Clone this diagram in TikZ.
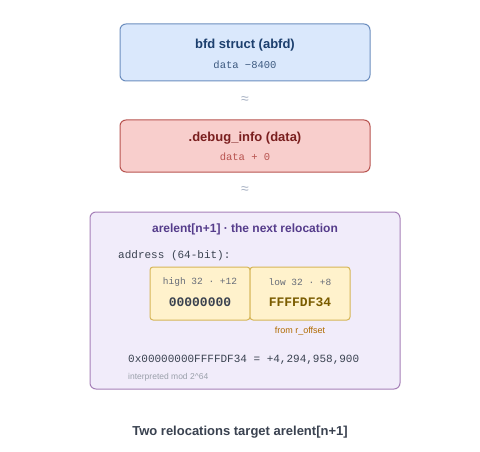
\documentclass[tikz,border=0pt]{standalone}
\usepackage{fontspec}
\setmainfont{Liberation Sans}
\setmonofont{Liberation Mono}
\definecolor{bluefill}{HTML}{DAE8FC}
\definecolor{bluedraw}{HTML}{6C8EBF}
\definecolor{bluetext}{HTML}{1C3F6E}
\definecolor{bluemono}{HTML}{3D5A80}
\definecolor{redfill}{HTML}{F8CECC}
\definecolor{reddraw}{HTML}{B85450}
\definecolor{redtext}{HTML}{7A1F1F}
\definecolor{redmono}{HTML}{B85450}
\definecolor{purfill}{HTML}{F1ECFA}
\definecolor{purdraw}{HTML}{A680B8}
\definecolor{purtext}{HTML}{553C8B}
\definecolor{yelfill}{HTML}{FFF2CC}
\definecolor{yeldraw}{HTML}{D6B656}
\definecolor{goldtext}{HTML}{7A5C00}
\definecolor{darktext}{HTML}{3A4250}
\definecolor{graytext}{HTML}{666C78}
\definecolor{lightgray}{HTML}{9AA0AA}
\definecolor{orangetext}{HTML}{B06A00}
\definecolor{approx}{HTML}{A8B2C4}
\begin{document}
\begin{tikzpicture}[x=1pt,y=-1pt,
  box/.style={draw, line width=1pt, rounded corners=6pt},
  title/.style={font=\fontsize{13}{15}\selectfont\bfseries, inner sep=0pt},
  mono/.style={font=\ttfamily\fontsize{10.5}{12}\selectfont, inner sep=0pt},
  field/.style={draw=yeldraw, fill=yelfill, line width=1pt, rounded corners=3pt},
  sep/.style={font=\fontsize{14}{15}\selectfont, text=approx, inner sep=0pt}]
\useasboundingbox (0,0) rectangle (480,452);
\fill[white] (0,0) rectangle (480,452);

% blue box
\draw[box, draw=bluedraw, fill=bluefill] (120,24) rectangle (370,81);
\node[title, text=bluetext] (t1) at (245,45) {bfd struct (abfd)};
\node[mono, text=bluemono] (m1) at (245,65) {data −8400};

\node[sep] (s1) at (245,100) {≈};

% red box
\draw[box, draw=reddraw, fill=redfill] (120,120) rectangle (370,172);
\node[title, text=redtext] (t2) at (245,138) {.debug\_info (data)};
\node[mono, text=redmono] (m2) at (245,157) {data + 0};

\node[sep] (s2) at (245,190) {≈};

% purple box
\draw[box, draw=purdraw, fill=purfill] (90,212) rectangle (400,389);
\node[title, text=purtext, font=\fontsize{12}{14}\selectfont\bfseries] (t3) at (245,229) {arelent[n+1] · the next relocation};
\node[mono, anchor=west, text=darktext, font=\ttfamily\fontsize{11}{12}\selectfont] (addr) at (118,256) {address (64-bit):};

\draw[field] (150,267) rectangle (250,320);
\draw[field] (250,267) rectangle (350,320);
\node[mono, text=graytext, font=\ttfamily\fontsize{9.5}{11}\selectfont] (h1) at (200,282) {high 32 · +12};
\node[mono, text=darktext, font=\ttfamily\bfseries\fontsize{13}{14}\selectfont] (h2) at (200,302) {00000000};
\node[mono, text=graytext, font=\ttfamily\fontsize{9.5}{11}\selectfont] (l1) at (300,282) {low 32 · +8};
\node[mono, text=goldtext, font=\ttfamily\bfseries\fontsize{13}{14}\selectfont] (l2) at (300,302) {FFFFDF34};
\node[inner sep=0pt, text=orangetext, font=\fontsize{9}{10}\selectfont] (from) at (300,331) {from r\_offset};

\node[mono, anchor=west, text=darktext, font=\ttfamily\fontsize{11}{12}\selectfont] (val) at (128,360) {0x00000000FFFFDF34 = +4,294,958,900};
\node[inner sep=0pt, anchor=west, text=lightgray, font=\fontsize{8.5}{10}\selectfont] (mod) at (128,377) {interpreted mod 2\textasciicircum 64};

\node[inner sep=0pt, text=darktext, font=\fontsize{13}{15}\selectfont\bfseries] (cap) at (240,432) {Two relocations target arelent[n+1]};
\end{tikzpicture}
\end{document}
